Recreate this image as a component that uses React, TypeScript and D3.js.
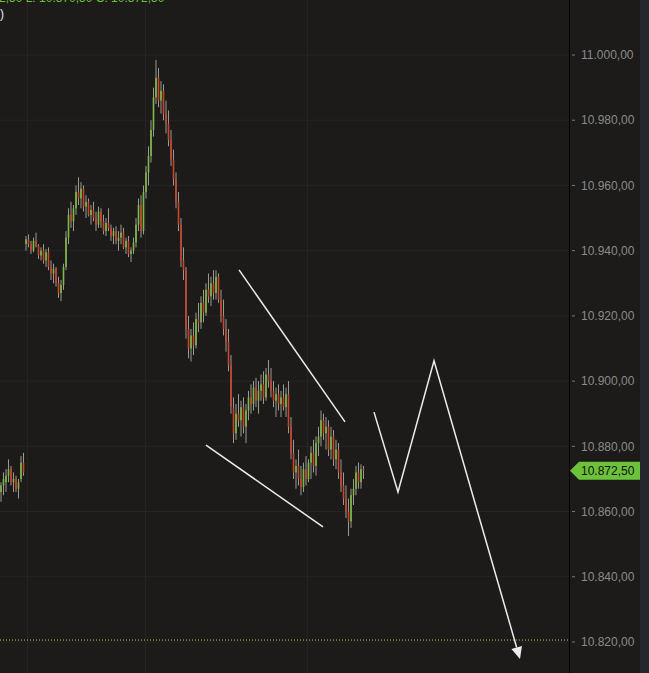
import React from "react";
import * as d3 from "d3";

const W = 649;
const H = 673;

// OHLC candles: [open, high, low, close]
const candles: [number, number, number, number][] = [
  [10866, 10869, 10863, 10868], [10868, 10872, 10865, 10870], [10869, 10873, 10866, 10871],
  [10871, 10876, 10869, 10873], [10873, 10874, 10868, 10869], [10869, 10872, 10866, 10870],
  [10870, 10871, 10866, 10867], [10867, 10870, 10864, 10869], [10870, 10877, 10869, 10875],
  [10875, 10878, 10871, 10872],
  [10942, 10944.5, 10940, 10943.5], [10943.5, 10945, 10941, 10942], [10942, 10943, 10939, 10940],
  [10940, 10944, 10939.5, 10943], [10943, 10945.5, 10941, 10941.5], [10941.5, 10942, 10937.5, 10938.5],
  [10938.5, 10941, 10937, 10940], [10940, 10942, 10936, 10937], [10937, 10940.5, 10935, 10939.5],
  [10939.5, 10941, 10934, 10935], [10935, 10937, 10931, 10933], [10933, 10936, 10930, 10934.5],
  [10934.5, 10935, 10929, 10930], [10930, 10932, 10925.5, 10927], [10927, 10931, 10924.5, 10929.5],
  [10929.5, 10936, 10928, 10935], [10935, 10946, 10934, 10944], [10944, 10953, 10942, 10951],
  [10951, 10955, 10947, 10949], [10949, 10954, 10946, 10953], [10953, 10960, 10951, 10958],
  [10958, 10962.5, 10954, 10956], [10956, 10961, 10953, 10959], [10959, 10960, 10952, 10953.5],
  [10953.5, 10957, 10950, 10955], [10955, 10956, 10950.5, 10951], [10951, 10954, 10948, 10952.5],
  [10952.5, 10955, 10949, 10950], [10950, 10952, 10946, 10948], [10948, 10953.5, 10947, 10952],
  [10952, 10953, 10947, 10949], [10949, 10951, 10945, 10946], [10946, 10950, 10944.5, 10948.5],
  [10948.5, 10953, 10946, 10947], [10947, 10948, 10943, 10944.5], [10944.5, 10947, 10942, 10946],
  [10946, 10947.5, 10942, 10943], [10943, 10946, 10940, 10944], [10944, 10948, 10942, 10945.5],
  [10945.5, 10947, 10940.5, 10941], [10941, 10944, 10939, 10943], [10943, 10944.5, 10938, 10939],
  [10939, 10941, 10936.5, 10940], [10940, 10944, 10939, 10942.5], [10942.5, 10950, 10941, 10948],
  [10948, 10956, 10946, 10954], [10954, 10957, 10944, 10946], [10946, 10960, 10945, 10958],
  [10958, 10966, 10956, 10964], [10964, 10972, 10960, 10969], [10969, 10980, 10967, 10977],
  [10977, 10990, 10975, 10987], [10987, 10998.5, 10985, 10993], [10993, 10996, 10984, 10986],
  [10986, 10992, 10982, 10989], [10989, 10991, 10980, 10982], [10982, 10986, 10976, 10979],
  [10979, 10983, 10972, 10974], [10974, 10977, 10966, 10968], [10968, 10971, 10960, 10962],
  [10962, 10964, 10953, 10955], [10955, 10958, 10946, 10948], [10948, 10950, 10935, 10937],
  [10937, 10941, 10931, 10934], [10934, 10935, 10913, 10916], [10916, 10920, 10907, 10910],
  [10910, 10916, 10906, 10914], [10914, 10918, 10908, 10911], [10911, 10921, 10910, 10919],
  [10919, 10924, 10915, 10918], [10918, 10926, 10916, 10924], [10924, 10928, 10918, 10921],
  [10921, 10930, 10920, 10928], [10928, 10933, 10924, 10926], [10926, 10932, 10923, 10930],
  [10930, 10934, 10925, 10927], [10927, 10934, 10925, 10932], [10932, 10933, 10924, 10925],
  [10925, 10928, 10918, 10920], [10920, 10925, 10914, 10916], [10916, 10919, 10909, 10912],
  [10912, 10916, 10903, 10905], [10905, 10908, 10890, 10892], [10892, 10895, 10881, 10884],
  [10884, 10893, 10882, 10890], [10890, 10896, 10886, 10888], [10888, 10894, 10883, 10892],
  [10892, 10895, 10884, 10886], [10886, 10893, 10881, 10891], [10891, 10897, 10888, 10895],
  [10895, 10899, 10890, 10893], [10893, 10900, 10891, 10898], [10898, 10901, 10892, 10894],
  [10894, 10900, 10890, 10897], [10897, 10902, 10894, 10899], [10899, 10903, 10893, 10895],
  [10895, 10904, 10894, 10902], [10902, 10906.5, 10898, 10900], [10900, 10904, 10895, 10897],
  [10897, 10900, 10892, 10894], [10894, 10898, 10889, 10896], [10896, 10899, 10891, 10893],
  [10893, 10897, 10889, 10895], [10895, 10899, 10891, 10892], [10892, 10898, 10889, 10896],
  [10896, 10900, 10884, 10886], [10886, 10889, 10876, 10878], [10878, 10882, 10870, 10872],
  [10872, 10876, 10867, 10874], [10874, 10879, 10868, 10870], [10870, 10874, 10865, 10867.5],
  [10867.5, 10875, 10866, 10873], [10873, 10877, 10868, 10870], [10870, 10876, 10869, 10875],
  [10875, 10880, 10870, 10878], [10878, 10882, 10872, 10874], [10874, 10883, 10871, 10881],
  [10881, 10886, 10877, 10883], [10883, 10891, 10880, 10888], [10888, 10890, 10882, 10884],
  [10884, 10889, 10879, 10886], [10886, 10888, 10877, 10879], [10879, 10886, 10876, 10883],
  [10883, 10885, 10874, 10876], [10876, 10882, 10873, 10879], [10879, 10881, 10870, 10872],
  [10872, 10876, 10866, 10868], [10868, 10872, 10862, 10864], [10864, 10868, 10858, 10860],
  [10860, 10864, 10852.5, 10857], [10857, 10867, 10855, 10865], [10865, 10870, 10862, 10867],
  [10867, 10874, 10865, 10872], [10872, 10875, 10867, 10869], [10869, 10874.5, 10867, 10873],
  [10873, 10874, 10870, 10872.5],
];

const yTicks = [11000, 10980, 10960, 10940, 10920, 10900, 10880, 10860, 10840, 10820];
const timeGrid = [10.4, 57.6, 122.4];
const lastPrice = 10872.5;
const stopLevel = 10820.6;

// Hand-drawn annotations: [index, price]
const upperLine: [number, number][] = [[95.2, 10934.1], [137.6, 10887.5]];
const lowerLine: [number, number][] = [[82, 10880.4], [128.8, 10855.3]];
const zigzag: [number, number][] = [[149.2, 10890.5], [158.8, 10866.0], [173.2, 10906.2], [207.6, 10814.8]];

const fmt = (v: number) => {
  const s = v.toFixed(2).replace(".", ",");
  const [int, dec] = s.split(",");
  return int.replace(/\B(?=(\d{3})+(?!\d))/g, ".") + "," + dec;
};

export default function App() {
  const plotRight = 569;
  const x = d3.scaleLinear().domain([0, 227.2]).range([1, plotRight]);
  const y = d3.scaleLinear().domain([10820, 11000]).range([642, 55]);
  const line = d3.line<[number, number]>().x((d) => x(d[0])).y((d) => y(d[1]));

  const last = zigzag[zigzag.length - 1];
  const prev = zigzag[zigzag.length - 2];
  const tx = x(last[0]), ty = y(last[1]);
  const px = x(prev[0]), py = y(prev[1]);
  const ang = Math.atan2(ty - py, tx - px);
  const aL = 12, aW = 5.5;
  const bx = tx - aL * Math.cos(ang), by = ty - aL * Math.sin(ang);
  const head = [
    [tx, ty],
    [bx + aW * Math.sin(ang), by - aW * Math.cos(ang)],
    [bx - aW * Math.sin(ang), by + aW * Math.cos(ang)],
  ];
  const zzPts: [number, number][] = [...zigzag.slice(0, -1), [x.invert(bx), y.invert(by)]];

  const ly = y(lastPrice);

  return (
    <svg width={W} height={H} style={{ position: "fixed", left: 0, top: 0, display: "block" }}
      fontFamily="'Liberation Sans', Arial, sans-serif">
      <rect x={0} y={0} width={W} height={H} fill="#1c1b19" />
      <rect x={640} y={0} width={9} height={H} fill="#24272c" />
      {yTicks.map((t) => (
        <line key={"g" + t} x1={0} x2={plotRight} y1={y(t)} y2={y(t)} stroke="#262522" strokeWidth={1} />
      ))}
      {timeGrid.map((g) => (
        <line key={"v" + g} x1={Math.round(x(g)) + 0.5} x2={Math.round(x(g)) + 0.5} y1={0} y2={H} stroke="#252420" strokeWidth={1} />
      ))}
      <line x1={0} x2={plotRight} y1={y(stopLevel)} y2={y(stopLevel)} stroke="#d4c04a" strokeWidth={1} strokeDasharray="1,2" />
      {candles.map((c, i) => {
        const [o, h, l, cl] = c;
        const cx = x(i);
        const up = cl >= o;
        const col = up ? "#7dbb45" : "#c8452e";
        const top = y(Math.max(o, cl));
        const bot = y(Math.min(o, cl));
        return (
          <g key={i}>
            <line x1={cx} x2={cx} y1={y(h)} y2={y(l)} stroke="#9c9a90" strokeWidth={1} />
            <rect x={cx - 0.8} y={top} width={1.6} height={Math.max(1, bot - top)} fill={col} />
          </g>
        );
      })}
      <path d={line(upperLine) || ""} stroke="#ececec" strokeWidth={1.5} fill="none" />
      <path d={line(lowerLine) || ""} stroke="#ececec" strokeWidth={1.5} fill="none" />
      <path d={line(zzPts) || ""} stroke="#ececec" strokeWidth={1.5} fill="none" strokeLinejoin="miter" />
      <polygon points={head.map((p) => p.join(",")).join(" ")} fill="#ececec" />
      <line x1={plotRight + 0.5} x2={plotRight + 0.5} y1={0} y2={H} stroke="#000" strokeWidth={1} />
      {yTicks.map((t) => (
        <g key={"t" + t}>
          <line x1={572} x2={575} y1={y(t)} y2={y(t)} stroke="#7a7a7a" strokeWidth={1} />
          <text x={581} y={y(t)} dy="0.35em" fontSize={12} fill="#8a8a8a">{fmt(t)}</text>
        </g>
      ))}
      <path d={`M${plotRight + 1},${ly} L${plotRight + 10},${ly - 9} L640,${ly - 9} L640,${ly + 9} L${plotRight + 10},${ly + 9} Z`} fill="#6cc23a" />
      <text x={581} y={ly} dy="0.35em" fontSize={12} fill="#111">{fmt(lastPrice)}</text>
      <text x={-1} y={2} fontSize={12} fill="#6cc23a">2,50  L: 10.870,50  C: 10.872,50</text>
      <text x={0} y={18} fontSize={12} fill="#e8e8e8">)</text>
    </svg>
  );
}
